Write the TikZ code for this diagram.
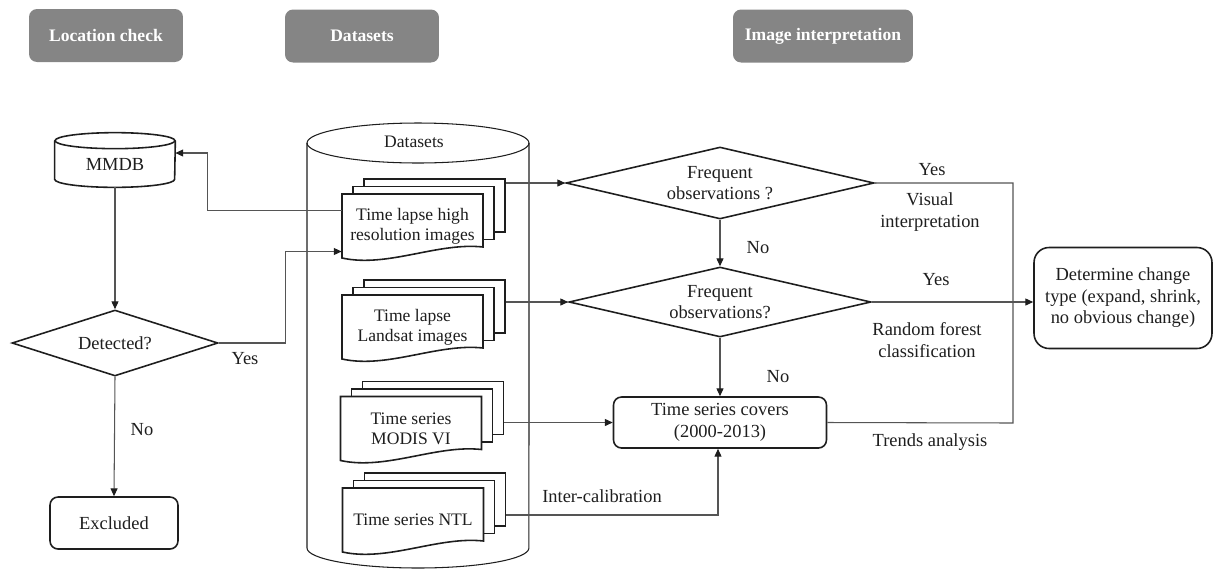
\documentclass[tikz,border=0pt]{standalone}
\usepackage{fontspec}
\setmainfont{Liberation Serif}
\usetikzlibrary{arrows.meta, calc, shapes.geometric}
\definecolor{ink}{HTML}{1E1E1E}
\definecolor{lineg}{HTML}{555555}
\definecolor{hdrgray}{HTML}{858585}
\newcommand{\bodyfont}{\fontsize{10.5}{12.2}\selectfont}
\newcommand{\docfont}{\fontsize{10}{11.5}\selectfont}

\begin{document}
\begin{tikzpicture}[
    x=0.02cm, y=0.02cm,
    >={Triangle[length=4.5pt, width=4pt, color=ink]},
    arr/.style={->, line width=0.6pt, lineg},
    conn/.style={line width=0.6pt, lineg},
    shp/.style={line width=0.9pt, draw=ink},
    every node/.style={text=ink, font=\bodyfont, align=center},
    % Column headers
    hdr/.style={rectangle, rounded corners=0.16cm, fill=hdrgray, text=white,
                font=\fontsize{10}{12}\selectfont\bfseries,
                minimum width=3.08cm, minimum height=1.06cm},
    % Stacked pages of a dataset
    page/.style={rectangle, draw=ink, line width=0.9pt, fill=white,
                 minimum width=2.82cm, minimum height=1.06cm, inner sep=0pt},
    doc/.style={font=\docfont, minimum width=2.82cm, inner sep=0pt},
    dia/.style={diamond, draw=ink, line width=0.9pt, aspect=4, inner sep=0pt},
    rbox/.style={rectangle, rounded corners=0.16cm, draw=ink, line width=0.9pt}
]
\useasboundingbox (0,0) rectangle (1214,-569);

% ========== Headers ==========
\node[hdr] (hloc) at (106,-35.5) {Location check};
\node[hdr] (hdata) at (362,-36) {Datasets};
\node[hdr, minimum width=3.6cm] (himg) at (823,-36) {Image interpretation};

% ========== Location check column ==========
\node[minimum width=2.4cm, minimum height=0.92cm, inner sep=0pt] (mmdb) at (115,-164) {MMDB};
\draw[shp] (mmdb.north west) -- ($(mmdb.south west)+(0,8)$)
    arc[start angle=180, end angle=360, x radius=1.2cm, y radius=0.16cm] -- (mmdb.north east);
\draw[shp] (mmdb.north) ellipse[x radius=1.2cm, y radius=0.16cm];

\node[dia, minimum width=4.12cm, minimum height=1.32cm] (detq) at (115,-343) {Detected?};
\node[rbox, minimum width=2.56cm, minimum height=1.04cm] (excl) at (114,-523) {Excluded};

% ========== Datasets cylinder ==========
\draw[line width=0.6pt, ink] (307,-143) -- (307,-548)
    arc[start angle=180, end angle=360, x radius=2.22cm, y radius=0.4cm] -- (529,-143);
\draw[line width=0.6pt, ink] (418,-143) ellipse[x radius=2.22cm, y radius=0.4cm];
\node[font=\docfont] (dslbl) at (414,-142) {Datasets};

% --- document stacks: back pages, front page with wavy bottom, text ---
\foreach \nm/\cx/\cy/\txt in {hires/412.5/226/{Time lapse high\\resolution images},
                              landsat/412.5/327/{Time lapse\\Landsat images},
                              modis/411/428.5/{Time series\\MODIS VI},
                              ntl/413/520/{Time series NTL}}{
    \node[page] (\nm3) at (\cx+22,-\cy+20.5) {};
    \node[page] (\nm2) at (\cx+11,-\cy+13) {};
    \filldraw[shp, fill=white] (\cx+70.5,-\cy-21) -- (\cx+70.5,-\cy+32) -- (\cx-70.5,-\cy+32)
        -- (\cx-70.5,-\cy-32) .. controls (\cx-25,-\cy-42) and (\cx+25,-\cy-16) .. (\cx+70.5,-\cy-21) -- cycle;
    \node[doc] (\nm) at (\cx,-\cy) {\txt};
}

% ========== Image interpretation column ==========
\node[dia, minimum width=6.16cm, minimum height=1.44cm] (fq1) at (720,-183) {Frequent\\observations ?};
\node[dia, minimum width=6.04cm, minimum height=1.40cm] (fq2) at (720,-302) {Frequent\\observations?};
\node[rbox, minimum width=4.26cm, minimum height=1.02cm] (tsc) at (720,-422.5) {Time series covers\\(2000-2013)};
\node[rbox, rounded corners=0.3cm, minimum width=3.56cm, minimum height=2.02cm] (chg) at (1123,-298)
    {Determine change\\type (expand, shrink,\\no obvious change)};
\coordinate (jn) at (1013,-423);

% ========== Connectors ==========
\draw[arr] (mmdb.south) -- (detq.north);
\draw[arr] (detq.south) -- (excl.north);
\draw[arr] ($(hires.west)+(0,15.5)$) -- ++(-134,0) |- ($(mmdb.east)+(0,11)$);
\draw[arr] (detq.east) -- ++(67,0) |- ($(hires.west)+(0,-25.5)$);

\draw[arr] (fq1.west -| hires3.east) -- (fq1.west);
\draw[arr] (fq2.west -| landsat3.east) -- (fq2.west);
\draw[arr] (tsc.west -| modis3.east) -- (tsc.west);
\draw[arr] ($(ntl3.east)+(0,-15.5)$) -| ($(tsc.south)+(-2,0)$);

\draw[arr] (fq1.south) -- (fq2.north);
\draw[arr] (fq2.south) -- (tsc.north);
\draw[conn] (fq1.east) -| (jn) -- (tsc.east);
\draw[arr] (fq2.east) -- (fq2.east -| chg.west);

% ========== Labels ==========
\node (ydet) at (245,-359) {Yes};
\node (ndet) at (142,-430) {No};
\node (nfq1) at (758,-248) {No};
\node (nfq2) at (778,-377) {No};
\node (yfq1) at (932,-170) {Yes};
\node (vis) at (930,-212) {Visual\\interpretation};
\node (yfq2) at (936,-280) {Yes};
\node (rf) at (927,-340) {Random forest\\classification};
\node (trd) at (930,-442) {Trends analysis};
\node (ical) at (602,-496) {Inter-calibration};

\end{tikzpicture}
\end{document}
